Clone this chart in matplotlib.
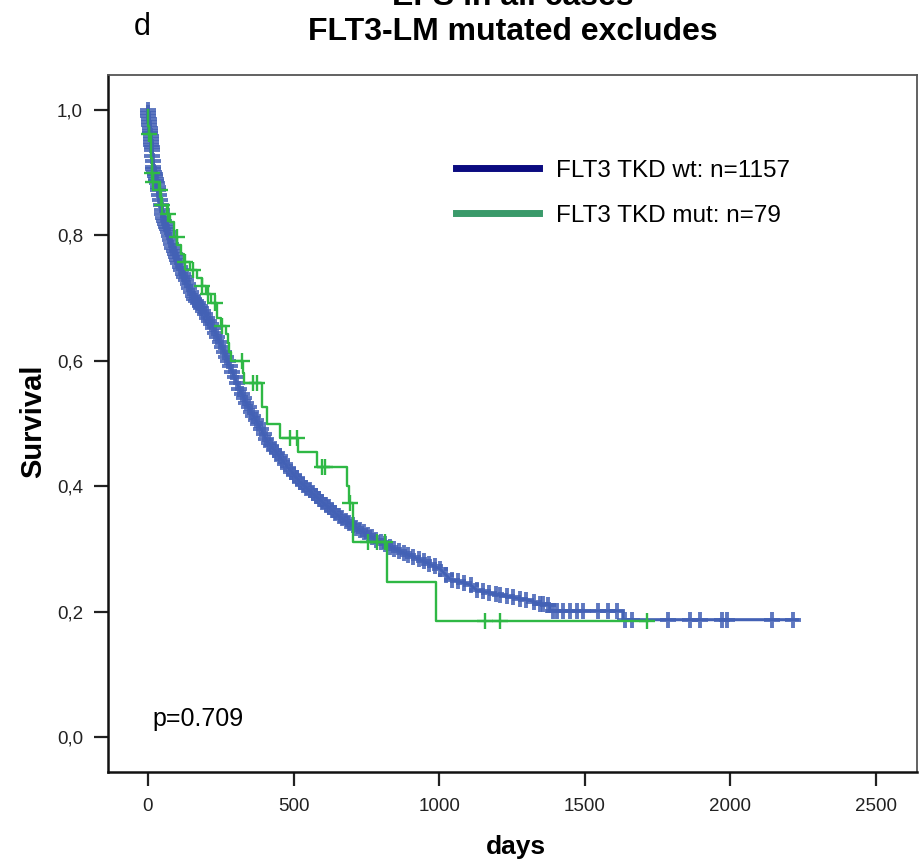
import matplotlib.pyplot as plt
from matplotlib.lines import Line2D
import numpy as np

plt.rcParams['font.family'] = ['Liberation Sans', 'DejaVu Sans']

# FLT3 TKD wt: survival curve (days, survival)
wt_days = [0, 3, 8, 14, 17, 31, 41, 52, 69, 86, 110, 134, 155, 189, 223, 254, 288,
           316, 350, 385, 412, 443, 480, 522, 591, 659, 728, 797, 865, 934, 1003,
           1037, 1106, 1130, 1174, 1209, 1312, 1346, 1380, 1380, 1631, 1631, 2232]
wt_surv = [1.0, 0.985, 0.963, 0.936, 0.909, 0.883, 0.856, 0.829, 0.804, 0.777, 0.750,
           0.724, 0.702, 0.681, 0.654, 0.622, 0.585, 0.553, 0.522, 0.494, 0.470, 0.453,
           0.430, 0.407, 0.378, 0.351, 0.330, 0.311, 0.296, 0.283, 0.268, 0.252, 0.243,
           0.234, 0.230, 0.226, 0.218, 0.212, 0.210, 0.201, 0.201, 0.187, 0.187]
# censored cases, wt
wt_cens = [0, 1, 2, 3, 4, 5, 6, 7, 8, 9, 10, 11, 12, 13, 14, 15, 16, 17, 19, 21, 23,
           25, 27, 29, 31, 33, 35, 38, 41, 44, 47, 50, 53, 56, 59, 62, 65, 68, 72, 76,
           80, 84, 88, 92, 96, 100, 105, 110, 115, 120, 125, 130, 136, 142, 148, 154,
           160, 166, 172, 178, 184, 190, 197, 204, 211, 218, 225, 232, 239, 246, 254,
           261, 268, 275, 282, 290, 298, 306, 314, 322, 330, 338, 346, 354, 362, 370,
           379, 388, 397, 406, 415, 424, 433, 442, 452, 462, 472, 482, 492, 502, 512,
           522, 533, 544, 555, 566, 577, 588, 599, 610, 621, 632, 643, 655, 667, 679,
           691, 703, 715, 728, 742, 756, 770, 785, 800, 815, 830, 846, 862, 878, 894,
           912, 930, 948, 966, 985, 1004, 1024, 1044, 1065, 1086, 1108, 1130, 1150,
           1172, 1195, 1209, 1233, 1253, 1277, 1300, 1325, 1346, 1356, 1374, 1391, 1404,
           1425, 1449, 1473, 1494, 1545, 1580, 1610, 1638, 1662, 1786, 1861, 1896, 1971,
           1989, 2143, 2215]

# FLT3 TKD mut: step times and survival after each step
mut_days = [0, 1, 4, 10, 13, 16, 38, 45, 65, 75, 90, 100, 115, 125, 145, 170, 185,
            200, 215, 237, 250, 268, 275, 280, 287, 326, 330, 391, 408, 453, 515, 580,
            683, 690, 705, 820, 989, 1713]
mut_surv = [1.0, 0.975, 0.962, 0.924, 0.899, 0.886, 0.873, 0.848, 0.835, 0.822, 0.797,
            0.784, 0.771, 0.758, 0.745, 0.732, 0.719, 0.706, 0.693, 0.668, 0.655, 0.642,
            0.628, 0.614, 0.600, 0.580, 0.565, 0.527, 0.500, 0.477, 0.455, 0.430, 0.400,
            0.373, 0.311, 0.247, 0.185, 0.185]
mut_cens = [5, 14, 17, 41, 47, 69, 99, 127, 155, 185, 206, 230, 254, 322, 360, 375,
            488, 512, 597, 608, 694, 756, 786, 814, 1157, 1209, 1713]

legend_labels = ['FLT3 TKD wt: n=1157', 'FLT3 TKD mut: n=79']
p_text = 'p=0.709'

fig = plt.figure(figsize=(9.2, 8.65), dpi=100)
ax = fig.add_axes([0.1174, 0.1075, 0.8793, 0.8058])

blue = '#4361b5'
green = '#2fb845'

# wt curve (very fine steps -> drawn as a line) with censor marks
ax.plot(wt_days, wt_surv, color=blue, lw=2.2, zorder=3)
wt_cy = np.interp(wt_cens, wt_days, wt_surv)
ax.plot(wt_cens, wt_cy, ls='none', marker='+', ms=11, mew=2.8, color=blue, alpha=0.85, zorder=3)

# mut curve, step function
ax.plot(mut_days, mut_surv, color=green, lw=1.7, drawstyle='steps-post', zorder=4)
idx = np.searchsorted(mut_days, mut_cens, side='right') - 1
mut_cy = np.array(mut_surv)[idx]
ax.plot(mut_cens, mut_cy, ls='none', marker='+', ms=11, mew=1.7, color=green, zorder=4)

ax.set_xlim(-137, 2641)
ax.set_ylim(-0.056, 1.056)
ax.set_xticks([0, 500, 1000, 1500, 2000, 2500])
ax.set_yticks([0, 0.2, 0.4, 0.6, 0.8, 1.0])
ax.set_yticklabels(['0,0', '0,2', '0,4', '0,6', '0,8', '1,0'])
ax.tick_params(direction='out', length=10, width=1.6, labelsize=13.5, colors='#222222')
ax.tick_params(axis='x', pad=9)
ax.tick_params(axis='y', pad=8)

for s in ['left', 'bottom']:
    ax.spines[s].set_linewidth(1.8)
    ax.spines[s].set_color('#111111')
for s in ['top', 'right']:
    ax.spines[s].set_linewidth(1.3)
    ax.spines[s].set_color('#555555')

handles = [Line2D([], [], color='#0b0b80', lw=5),
           Line2D([], [], color='#3a9a6a', lw=5)]
ax.legend(handles, legend_labels, loc='upper left', bbox_to_anchor=(0.403, 0.91),
          frameon=False, fontsize=17.5, handlelength=3.4, handletextpad=0.7,
          labelspacing=0.95)

ax.text(0.055, 0.066, p_text, transform=ax.transAxes, fontsize=18)

fig.text(0.036, 0.513, 'Survival', rotation=90, ha='center', va='center',
         fontsize=21, weight='bold')
fig.text(0.561, 0.021, 'days', ha='center', va='center', fontsize=19, weight='bold')
fig.text(0.557, 0.963, 'FLT3-LM mutated excludes', ha='center', va='center',
         fontsize=23, weight='bold')
fig.text(0.557, 1.004, 'EFS in all cases', ha='center', va='center',
         fontsize=23, weight='bold')
fig.text(0.155, 0.969, 'd', ha='center', va='center', fontsize=22)

fig.savefig('out.png', dpi=100)
